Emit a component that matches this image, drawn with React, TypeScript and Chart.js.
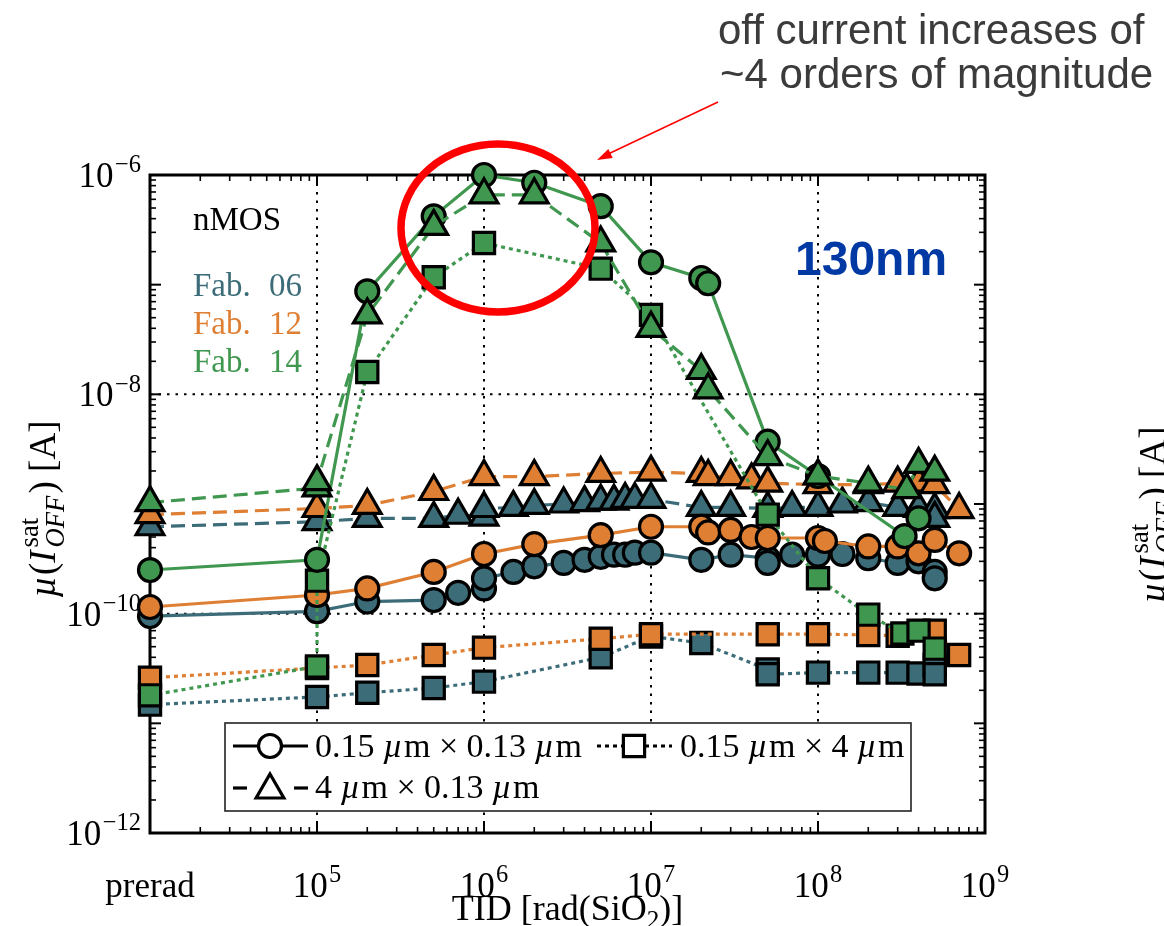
import React, { useEffect, useRef } from 'react';
import { Chart, registerables } from 'chart.js';

Chart.register(...registerables);

const W = 1164;
const H = 926;
const TEAL = '#3d6c79';
const ORANGE = '#df7f33';
const GREEN = '#40974f';
const SERIF = '"Liberation Serif", "Times New Roman", serif';
const SANS = '"Liberation Sans", Arial, sans-serif';

// ---- axis ticks ----
const xTickValues = [1e4, 1e5, 1e6, 1e7, 1e8, 1e9];
const xTickLabels = ['prerad', '10^5', '10^6', '10^7', '10^8', '10^9'];
const yTickValues = [1e-12, 1e-10, 1e-8, 1e-6];
const yTickLabels = ['10^−12', '10^−10', '10^−8', '10^−6'];
const xGridValues = [1e5, 1e6, 1e7, 1e8];
const yGridValues = [1e-10, 1e-8];

// ---- Fab. 06 (teal) ----
const fab06CircleX = [1e4, 1e5, 2e5, 5e5, 7e5, 1e6, 1e6, 1.5e6, 2e6, 3e6, 4e6, 5e6, 6e6, 7e6, 8e6, 1e7, 2e7, 3e7, 5e7, 5e7, 7e7, 1e8, 1.4e8, 2e8, 3e8, 4e8, 5e8, 5e8];
const fab06CircleY = [9.5e-11, 1.05e-10, 1.29e-10, 1.33e-10, 1.55e-10, 1.7e-10, 2.1e-10, 2.4e-10, 2.7e-10, 2.9e-10, 3.1e-10, 3.3e-10, 3.45e-10, 3.45e-10, 3.6e-10, 3.6e-10, 3.1e-10, 3.45e-10, 3.2e-10, 2.9e-10, 3.45e-10, 3.45e-10, 3.5e-10, 3.2e-10, 2.9e-10, 3.0e-10, 2.4e-10, 2.1e-10];
const fab06TriX = [1e4, 1e5, 2e5, 5e5, 7e5, 1e6, 1e6, 1.5e6, 2e6, 3e6, 4e6, 5e6, 6e6, 7e6, 8e6, 1e7, 2e7, 3e7, 5e7, 7e7, 1e8, 1.4e8, 2e8, 3e8, 4e8, 5e8, 5e8];
const fab06TriY = [6.2e-10, 6.9e-10, 7.4e-10, 7.4e-10, 7.9e-10, 7.6e-10, 9.1e-10, 9.3e-10, 9.7e-10, 1.0e-9, 1.03e-9, 1.06e-9, 1.06e-9, 1.1e-9, 1.1e-9, 1.1e-9, 9.3e-10, 9.3e-10, 9.1e-10, 9.3e-10, 9.3e-10, 1.0e-9, 1.03e-9, 9.3e-10, 9.1e-10, 8.9e-10, 7.4e-10];
const fab06SqX = [1e4, 1e5, 2e5, 5e5, 1e6, 5e6, 1e7, 2e7, 5e7, 5e7, 1e8, 2e8, 3e8, 4e8, 5e8, 5e8];
const fab06SqY = [1.48e-11, 1.74e-11, 1.9e-11, 2.1e-11, 2.4e-11, 4.0e-11, 6.2e-11, 5.4e-11, 3.1e-11, 2.8e-11, 2.9e-11, 2.9e-11, 2.9e-11, 2.85e-11, 3.4e-11, 2.8e-11];

// ---- Fab. 12 (orange) ----
const fab12CircleX = [1e4, 1e5, 2e5, 5e5, 1e6, 2e6, 5e6, 1e7, 2e7, 2.2e7, 3e7, 4e7, 5e7, 1e8, 1.1e8, 2e8, 3e8, 4e8, 5e8, 7e8];
const fab12CircleY = [1.15e-10, 1.48e-10, 1.7e-10, 2.4e-10, 3.5e-10, 4.3e-10, 5.2e-10, 6.2e-10, 6.2e-10, 5.5e-10, 5.8e-10, 5.0e-10, 4.9e-10, 4.9e-10, 4.6e-10, 4.1e-10, 4.1e-10, 3.55e-10, 4.7e-10, 3.55e-10];
const fab12TriX = [1e4, 1e5, 2e5, 5e5, 1e6, 2e6, 5e6, 1e7, 2e7, 2.2e7, 3e7, 4e7, 5e7, 1e8, 2e8, 3e8, 4e8, 5e8, 7e8];
const fab12TriY = [8.0e-10, 9.1e-10, 9.7e-10, 1.3e-9, 1.78e-9, 1.78e-9, 1.9e-9, 1.95e-9, 1.9e-9, 1.78e-9, 1.78e-9, 1.66e-9, 1.55e-9, 1.5e-9, 1.5e-9, 1.55e-9, 1.55e-9, 1.5e-9, 8.9e-10];
const fab12SqX = [1e4, 1e5, 2e5, 5e5, 1e6, 5e6, 1e7, 5e7, 1e8, 2e8, 3e8, 5e8, 7e8];
const fab12SqY = [2.6e-11, 3.2e-11, 3.4e-11, 4.2e-11, 4.9e-11, 5.9e-11, 6.5e-11, 6.5e-11, 6.5e-11, 6.4e-11, 6.3e-11, 7.0e-11, 4.2e-11];

// ---- Fab. 14 (green) ----
const fab14CircleX = [1e4, 1e5, 2e5, 5e5, 1e6, 2e6, 5e6, 1e7, 2e7, 2.2e7, 5e7, 1e8, 3.3e8, 4e8];
const fab14CircleY = [2.5e-10, 3.1e-10, 8.7e-8, 4.2e-7, 1.0e-6, 8.5e-7, 5.2e-7, 1.6e-7, 1.15e-7, 1.03e-7, 3.7e-9, 1.8e-9, 5.1e-10, 7.4e-10];
const fab14TriX = [1e4, 1e5, 1e5, 2e5, 5e5, 1e6, 2e6, 5e6, 1e7, 2e7, 2.2e7, 5e7, 1e8, 2e8, 3.4e8, 4e8, 5e8];
const fab14TriY = [1.03e-9, 1.4e-9, 1.6e-9, 5.3e-8, 3.4e-7, 6.6e-7, 6.6e-7, 2.4e-7, 4.0e-8, 1.65e-8, 1.1e-8, 2.7e-9, 1.8e-9, 1.55e-9, 1.35e-9, 2.3e-9, 1.95e-9];
const fab14SqX = [1e4, 1e5, 1e5, 2e5, 5e5, 1e6, 5e6, 1e7, 5e7, 1e8, 2e8, 3.2e8, 4e8, 5e8];
const fab14SqY = [1.8e-11, 3.3e-11, 2.0e-10, 1.6e-8, 1.17e-7, 2.4e-7, 1.4e-7, 5.3e-8, 8.0e-10, 2.1e-10, 9.8e-11, 6.6e-11, 7.0e-11, 4.8e-11];

const fabLabels = ['Fab. 06', 'Fab. 12', 'Fab. 14'];
const fabColors = [TEAL, ORANGE, GREEN];
const legendLabels = ['0.15 µm × 0.13 µm', '0.15 µm × 4 µm', '4 µm × 0.13 µm'];

type Shape = 'circle' | 'triangle' | 'square';

const CIRCLE_R = 11.5;
const TRI_R = 16;
const SQ_R = 15;

function makeDataset(xs: number[], ys: number[], color: string, shape: Shape) {
  const style =
    shape === 'circle'
      ? { pointStyle: 'circle', pointRadius: CIRCLE_R, borderDash: [] as number[] }
      : shape === 'triangle'
      ? { pointStyle: 'triangle', pointRadius: TRI_R, borderDash: [14, 7] }
      : { pointStyle: 'rect', pointRadius: SQ_R, borderDash: [4, 4] };
  return {
    data: xs.map((x, i) => ({ x, y: ys[i] })),
    borderColor: color,
    backgroundColor: color,
    pointBackgroundColor: color,
    pointBorderColor: '#000',
    pointBorderWidth: 3.2,
    borderWidth: 3.2,
    clip: false as any,
    tension: 0,
    ...style,
  };
}

type Run = { t: string; it?: boolean; sc?: number; dy?: number; stack?: boolean; gap?: number };

function layoutRuns(ctx: CanvasRenderingContext2D, runs: Run[], size: number, family: string) {
  let x = 0;
  let prevX = 0;
  let prevW = 0;
  const items: { r: Run; fs: number; x: number }[] = [];
  for (const r of runs) {
    const fs = size * (r.sc ?? 1);
    ctx.font = `${r.it ? 'italic ' : ''}${fs}px ${family}`;
    const w = ctx.measureText(r.t).width + (r.gap ?? 0) * size;
    if (r.stack) {
      items.push({ r, fs, x: prevX });
      x = prevX + Math.max(prevW, w);
    } else {
      items.push({ r, fs, x });
      prevX = x;
      prevW = w;
      x += w;
    }
  }
  return { items, width: x };
}

function drawRuns(
  ctx: CanvasRenderingContext2D,
  runs: Run[],
  size: number,
  x: number,
  y: number,
  align: 'left' | 'center' | 'right',
  color: string,
  family: string = SERIF
) {
  const { items, width } = layoutRuns(ctx, runs, size, family);
  const x0 = align === 'center' ? x - width / 2 : align === 'right' ? x - width : x;
  ctx.fillStyle = color;
  ctx.textAlign = 'left';
  ctx.textBaseline = 'alphabetic';
  for (const it of items) {
    ctx.font = `${it.r.it ? 'italic ' : ''}${it.fs}px ${family}`;
    ctx.fillText(it.r.t, x0 + it.x, y + (it.r.dy ?? 0) * size);
  }
}

function tickRuns(label: string): Run[] {
  const parts = label.split('^');
  if (parts.length === 1) return [{ t: label }];
  return [{ t: parts[0], gap: 0.04 }, { t: parts[1], sc: 0.7, dy: -0.42 }];
}

function mathRuns(label: string): Run[] {
  const out: Run[] = [];
  const pieces = label.split('µ');
  pieces.forEach((p, i) => {
    if (i > 0) out.push({ t: 'µ', it: true, gap: 0.04 });
    if (p) out.push({ t: p });
  });
  return out;
}

const yTitleRuns: Run[] = [
  { t: 'µ', it: true, gap: 0.03 },
  { t: '(' },
  { t: 'I', it: true, gap: 0.08 },
  { t: 'sat', sc: 0.72, dy: -0.45 },
  { t: 'OFF', it: true, sc: 0.72, dy: 0.25, stack: true, gap: 0.06 },
  { t: ')' },
  { t: ' [A]' },
];
const xTitleRuns: Run[] = [{ t: 'TID [rad(SiO' }, { t: '2', sc: 0.7, dy: 0.22 }, { t: ')]' }];

function line(ctx: CanvasRenderingContext2D, x1: number, y1: number, x2: number, y2: number) {
  ctx.beginPath();
  ctx.moveTo(x1, y1);
  ctx.lineTo(x2, y2);
  ctx.stroke();
}

function drawMarker(ctx: CanvasRenderingContext2D, shape: Shape, x: number, y: number) {
  ctx.save();
  ctx.fillStyle = '#fff';
  ctx.strokeStyle = '#000';
  ctx.lineWidth = 3.2;
  ctx.setLineDash([]);
  ctx.beginPath();
  if (shape === 'circle') {
    ctx.arc(x, y, CIRCLE_R, 0, Math.PI * 2);
  } else if (shape === 'triangle') {
    for (let k = 0; k < 3; k++) {
      const a = (k * 2 * Math.PI) / 3;
      const px = x + Math.sin(a) * TRI_R;
      const py = y - Math.cos(a) * TRI_R;
      if (k === 0) ctx.moveTo(px, py);
      else ctx.lineTo(px, py);
    }
    ctx.closePath();
  } else {
    const s = SQ_R * Math.SQRT1_2;
    ctx.rect(x - s, y - s, 2 * s, 2 * s);
  }
  ctx.fill();
  ctx.stroke();
  ctx.restore();
}

const decorPlugin = {
  id: 'decor',
  beforeDatasetsDraw(chart: any) {
    const ctx: CanvasRenderingContext2D = chart.ctx;
    const { left, right, top, bottom } = chart.chartArea;
    const sx = chart.scales.x;
    const sy = chart.scales.y;
    ctx.save();
    // dotted grid
    ctx.strokeStyle = '#000';
    ctx.lineWidth = 2;
    ctx.setLineDash([2.5, 6]);
    xGridValues.forEach((v) => {
      const p = sx.getPixelForValue(v);
      line(ctx, p, top, p, bottom);
    });
    yGridValues.forEach((v) => {
      const p = sy.getPixelForValue(v);
      line(ctx, left, p, right, p);
    });
    ctx.setLineDash([]);
    // inward ticks
    for (let e = 4; e <= 8; e++) {
      for (let k = 1; k <= 9; k++) {
        const p = sx.getPixelForValue(k * Math.pow(10, e));
        const len = k === 1 ? 11 : 6;
        ctx.lineWidth = k === 1 ? 2 : 1.6;
        line(ctx, p, bottom, p, bottom - len);
        line(ctx, p, top, p, top + len);
      }
    }
    for (let e = -12; e <= -7; e++) {
      for (let k = 1; k <= 9; k++) {
        const p = sy.getPixelForValue(k * Math.pow(10, e));
        const len = k === 1 ? 11 : 6;
        ctx.lineWidth = k === 1 ? 2 : 1.6;
        line(ctx, left, p, left + len, p);
        line(ctx, right, p, right - len, p);
      }
    }
    // frame
    ctx.lineWidth = 3;
    ctx.strokeRect(left, top, right - left, bottom - top);

    // tick labels
    xTickValues.forEach((v, i) => {
      const p = sx.getPixelForValue(v);
      drawRuns(ctx, tickRuns(xTickLabels[i]), 35, p, 897, 'center', '#000');
    });
    yTickValues.forEach((v, i) => {
      const p = sy.getPixelForValue(v);
      drawRuns(ctx, tickRuns(yTickLabels[i]), 35, left - 9, p + 12, 'right', '#000');
    });
    // axis titles
    drawRuns(ctx, xTitleRuns, 36, (left + right) / 2, 920, 'center', '#000');
    ctx.save();
    ctx.translate(55, 509);
    ctx.rotate(-Math.PI / 2);
    drawRuns(ctx, yTitleRuns, 37, 0, 0, 'center', '#000');
    ctx.restore();
    // neighbouring panel's y label (cut off at right edge)
    ctx.save();
    ctx.translate(1165, 515);
    ctx.rotate(-Math.PI / 2);
    drawRuns(ctx, yTitleRuns, 37, 0, 0, 'center', '#000');
    ctx.restore();

    // in-plot labels
    ctx.fillStyle = '#000';
    ctx.font = `33px ${SERIF}`;
    ctx.textAlign = 'left';
    ctx.fillText('nMOS', 193, 230);
    const fy = [296, 334, 372];
    fabLabels.forEach((lab, i) => {
      const [a, b] = lab.split(' ');
      ctx.fillStyle = fabColors[i];
      ctx.fillText(a, 193, fy[i]);
      ctx.fillText(b, 269, fy[i]);
    });
    ctx.restore();
  },
  afterDatasetsDraw(chart: any) {
    const ctx: CanvasRenderingContext2D = chart.ctx;
    ctx.save();
    // legend
    ctx.fillStyle = '#fff';
    ctx.fillRect(225, 723, 686, 88);
    ctx.strokeStyle = '#222';
    ctx.lineWidth = 1.6;
    ctx.strokeRect(225, 723, 686, 88);
    ctx.strokeStyle = '#000';
    ctx.lineWidth = 3.2;
    // row 1, entry 1: solid + circle
    line(ctx, 233, 746, 308, 746);
    drawMarker(ctx, 'circle', 270, 746);
    drawRuns(ctx, mathRuns(legendLabels[0]), 34, 315, 757, 'left', '#000');
    // row 1, entry 2: dotted + square
    ctx.strokeStyle = '#000';
    ctx.lineWidth = 3.2;
    ctx.setLineDash([4, 4]);
    line(ctx, 597, 746, 672, 746);
    ctx.setLineDash([]);
    drawMarker(ctx, 'square', 634, 746);
    drawRuns(ctx, mathRuns(legendLabels[1]), 34, 680, 757, 'left', '#000');
    // row 2: dashed + triangle
    ctx.strokeStyle = '#000';
    ctx.lineWidth = 3.2;
    line(ctx, 233, 788, 247, 788);
    line(ctx, 294, 788, 308, 788);
    drawMarker(ctx, 'triangle', 270, 790);
    drawRuns(ctx, mathRuns(legendLabels[2]), 34, 315, 798, 'left', '#000');

    // 130nm
    ctx.fillStyle = '#0038a4';
    ctx.font = `bold 48px ${SANS}`;
    ctx.textAlign = 'left';
    ctx.fillText('130nm', 795, 275);

    // red ellipse
    ctx.strokeStyle = '#ff0000';
    ctx.lineWidth = 7.5;
    ctx.beginPath();
    ctx.ellipse(498, 228, 97, 84, 0, 0, Math.PI * 2);
    ctx.stroke();

    // arrow
    ctx.lineWidth = 1.5;
    line(ctx, 718, 102, 606, 155);
    ctx.fillStyle = '#ff0000';
    const ang = Math.atan2(160 - 102, 597 - 718);
    ctx.beginPath();
    ctx.moveTo(597, 160);
    ctx.lineTo(597 - 15 * Math.cos(ang) + 5 * Math.sin(ang), 160 - 15 * Math.sin(ang) - 5 * Math.cos(ang));
    ctx.lineTo(597 - 15 * Math.cos(ang) - 5 * Math.sin(ang), 160 - 15 * Math.sin(ang) + 5 * Math.cos(ang));
    ctx.closePath();
    ctx.fill();

    // annotation text
    ctx.fillStyle = '#3b3b3b';
    ctx.font = `42px ${SANS}`;
    ctx.fillText('off current increases of', 718, 44);
    ctx.fillText('~4 orders of magnitude', 720, 88);
    ctx.restore();
  },
};

export default function App() {
  const ref = useRef<HTMLCanvasElement | null>(null);
  useEffect(() => {
    if (!ref.current) return;
    const datasets = [
      makeDataset(fab14TriX, fab14TriY, GREEN, 'triangle'),
      makeDataset(fab14CircleX, fab14CircleY, GREEN, 'circle'),
      makeDataset(fab14SqX, fab14SqY, GREEN, 'square'),
      makeDataset(fab12TriX, fab12TriY, ORANGE, 'triangle'),
      makeDataset(fab12CircleX, fab12CircleY, ORANGE, 'circle'),
      makeDataset(fab12SqX, fab12SqY, ORANGE, 'square'),
      makeDataset(fab06TriX, fab06TriY, TEAL, 'triangle'),
      makeDataset(fab06CircleX, fab06CircleY, TEAL, 'circle'),
      makeDataset(fab06SqX, fab06SqY, TEAL, 'square'),
    ];
    const chart = new Chart(ref.current, {
      type: 'line',
      data: { datasets: datasets as any },
      options: {
        animation: false,
        responsive: false,
        devicePixelRatio: 1,
        layout: { padding: { left: 0, top: 175, right: W - 985, bottom: 0 }, autoPadding: false } as any,
        plugins: { legend: { display: false }, tooltip: { enabled: false } },
        events: [],
        scales: {
          x: {
            type: 'logarithmic',
            min: 1e4,
            max: 1e9,
            grid: { display: false },
            border: { display: false },
            ticks: { display: false },
            afterFit: (s: any) => {
              s.height = H - 833;
            },
          },
          y: {
            type: 'logarithmic',
            min: 1e-12,
            max: 1e-6,
            grid: { display: false },
            border: { display: false },
            ticks: { display: false },
            afterFit: (s: any) => {
              s.width = 150;
            },
          },
        },
      } as any,
      plugins: [decorPlugin],
    });
    return () => chart.destroy();
  }, []);
  return (
    <div style={{ position: 'absolute', left: 0, top: 0, width: W, height: H, background: '#fff' }}>
      <canvas ref={ref} width={W} height={H} style={{ display: 'block' }} />
    </div>
  );
}
